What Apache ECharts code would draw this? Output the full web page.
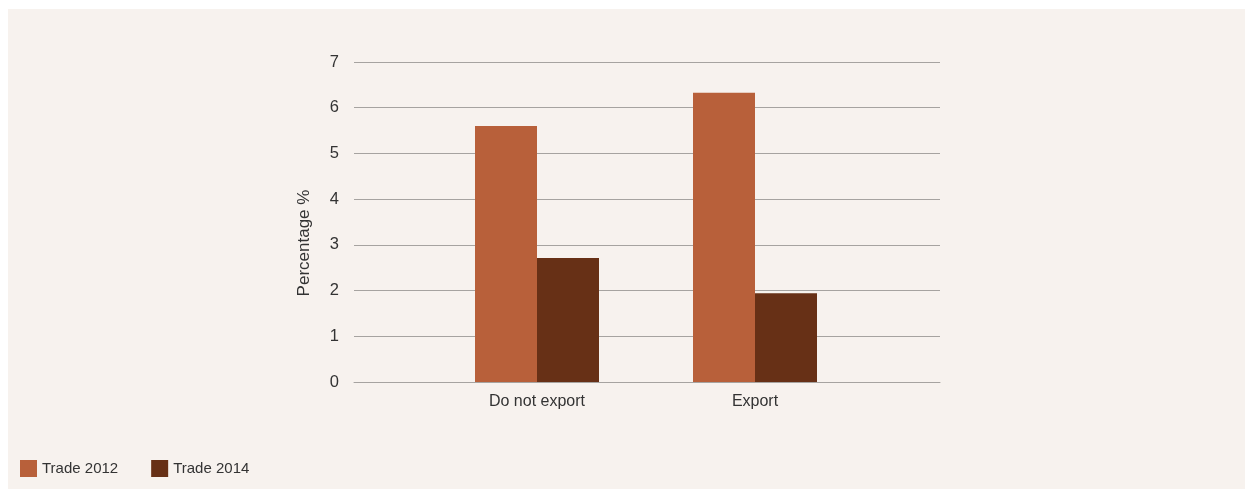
<!DOCTYPE html>
<html><head><meta charset="utf-8">
<script src="https://cdn.jsdelivr.net/npm/echarts@6/dist/echarts.min.js"></script>
<style>html,body{margin:0;padding:0;background:#fff;}#bg{position:absolute;left:8px;top:9px;right:0;bottom:0;background:#f7f2ee;}#c{position:absolute;left:0;top:0;width:1245px;height:489px;}</style>
</head><body><div id="bg"></div><div id="c"></div>
<script>
const categories = ['Do not export', 'Export'];
const trade2012 = [5.6, 6.33];
const trade2014 = [2.71, 1.94];
const yTicks = [0, 1, 2, 3, 4, 5, 6, 7];
const seriesNames = ['Trade 2012', 'Trade 2014'];

const chart = echarts.init(document.getElementById('c'), null, {renderer: 'canvas'});
const font = 'Liberation Sans, Arial, Helvetica, sans-serif';
chart.setOption({
  backgroundColor: 'transparent',
  animation: false,
  textStyle: {fontFamily: font},
  legend: {
    left: 15, top: 455, itemWidth: 17, itemHeight: 17, itemGap: 33,
    icon: 'rect',
    textStyle: {fontSize: 15, color: '#333', fontFamily: font},
    data: seriesNames
  },
  grid: [
    {left: 354, right: 305, top: 62, bottom: 107, containLabel: false},
    {left: 428, width: 436, top: 62, bottom: 107, containLabel: false}
  ],
  xAxis: [
    {gridIndex: 0, type: 'category', data: categories, show: true,
     axisLine: {show: true, lineStyle: {color: '#a6a3a0', width: 1}},
     axisTick: {show: false}, axisLabel: {show: false}},
    {gridIndex: 1, type: 'category', data: categories,
     axisLine: {show: false}, axisTick: {show: false},
     axisLabel: {color: '#333', fontSize: 16, margin: 12, fontFamily: font}}
  ],
  yAxis: [
    {gridIndex: 0, type: 'value', min: yTicks[0], max: yTicks[yTicks.length-1], interval: 1,
     axisLine: {show: false}, axisTick: {show: false},
     axisLabel: {color: '#333', fontSize: 16.5, margin: 15, padding: [7, 0, 0, 0], fontFamily: font},
     splitLine: {lineStyle: {color: '#a6a3a0', width: 1}}},
    {gridIndex: 1, type: 'value', min: yTicks[0], max: yTicks[yTicks.length-1], interval: 1,
     show: false, splitLine: {show: false}}
  ],
  graphic: [{
    type: 'text', x: 296, y: 243, rotation: Math.PI / 2,
    style: {text: 'Percentage %', fill: '#333', fontSize: 17, fontFamily: font, align: 'center', verticalAlign: 'top'}
  }],
  series: [
    {name: seriesNames[0], type: 'bar', xAxisIndex: 1, yAxisIndex: 1, data: trade2012,
     barWidth: 62, barGap: '0%', itemStyle: {color: '#b8603a'}},
    {name: seriesNames[1], type: 'bar', xAxisIndex: 1, yAxisIndex: 1, data: trade2014,
     barWidth: 62, barGap: '0%', itemStyle: {color: '#673016'}}
  ]
});
</script></body></html>
